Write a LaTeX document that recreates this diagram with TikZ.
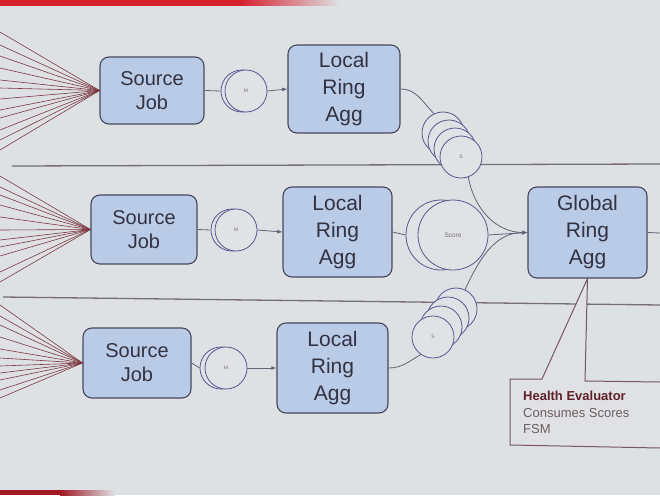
\documentclass[tikz,border=0pt]{standalone}
\usepackage{fontspec}
\setmainfont{Liberation Sans}
\usepackage{xcolor}
\usepackage{tikz}

\definecolor{slidebg}{RGB}{221,225,228}
\definecolor{slidered}{RGB}{214,32,46}
\definecolor{boxfill}{RGB}{186,203,231}
\definecolor{boxline}{RGB}{70,72,92}
\definecolor{boxtext}{RGB}{50,50,66}
\definecolor{ringfill}{RGB}{224,226,230}
\definecolor{ringline}{RGB}{88,88,145}
\definecolor{fanline}{RGB}{125,55,65}
\definecolor{sepline}{RGB}{118,108,124}
\definecolor{notefill}{RGB}{224,225,228}
\definecolor{noteline}{RGB}{118,86,96}
\definecolor{notehead}{RGB}{96,32,42}
\definecolor{notetext}{RGB}{108,94,96}

\tikzset{
job/.style={draw=boxline,fill=boxfill,line width=1.1pt,rounded corners=9pt,align=center,text=boxtext,inner sep=0pt,font=\fontsize{20}{24}\selectfont},
agg/.style={job,font=\fontsize{21}{27}\selectfont},
ring/.style={circle,draw=ringline,fill=ringfill,line width=0.8pt,inner sep=0pt,minimum size=42pt,text=black!55,font=\fontsize{5}{6}\selectfont},
flow/.style={draw=boxline!85,line width=0.8pt},
fan/.style={draw=fanline,line width=0.6pt},
sep/.style={draw=sepline,line width=1.3pt},
note/.style={fill=notefill,draw=noteline,line width=1pt}
}

\begin{document}
\begin{tikzpicture}[x={1pt},y={-1pt},>=latex]
\useasboundingbox (0,0) rectangle (660,495);
\fill[slidebg] (0,0) rectangle (660,495);
\fill[slidered] (0,0) rectangle (240,6);
\shade[left color=slidered,right color=slidebg] (240,0) rectangle (340,6);
\fill[slidered!75!black] (0,490) rectangle (60,495);
\shade[left color=slidered!75!black,right color=slidebg] (60,490) rectangle (115,495);

\coordinate (sepAl) at (12,166);
\coordinate (sepAr) at (660,164);
\coordinate (sepBl) at (3,297);
\coordinate (sepBr) at (660,305);
\draw[sep] (sepAl) -- (sepAr);
\draw[sep] (sepBl) -- (sepBr);

\node[job,minimum width=104pt,minimum height=67pt] (src1) at (152,90.5) {Source\\Job};
\node[job,minimum width=106pt,minimum height=69pt] (src2) at (144,229.5) {Source\\Job};
\node[job,minimum width=108pt,minimum height=70pt] (src3) at (137,363) {Source\\Job};
\node[agg,minimum width=112pt,minimum height=88pt] (agg1) at (344,89) {Local\\Ring\\Agg};
\node[agg,minimum width=109pt,minimum height=90pt] (agg2) at (337.5,232) {Local\\Ring\\Agg};
\node[agg,minimum width=111pt,minimum height=90pt] (agg3) at (332.5,368) {Local\\Ring\\Agg};
\node[agg,minimum width=119pt,minimum height=91pt] (glob) at (587.5,232.5) {Global\\Ring\\Agg};

\foreach \y [count=\i] in {32,45,56,68,80,88,99,110,118,130,140,150} {
\coordinate (fanA\i) at (0,\y);
\draw[fan] (src1.west) -- (fanA\i);
}
\foreach \y [count=\i] in {176,187,195,205,217,230,240,247,256,272,282} {
\coordinate (fanB\i) at (0,\y);
\draw[fan] (src2.west) -- (fanB\i);
}
\foreach \y [count=\i] in {305,316,325,337,349,358,366,373,380,390,398} {
\coordinate (fanC\i) at (0,\y);
\draw[fan] (src3.west) -- (fanC\i);
}

\node[ring] (m1b) at (242,91) {};
\node[ring] (m1) at (246,91) {M};
\node[ring] (m2b) at (232,230) {};
\node[ring] (m2) at (236,230) {M};
\node[ring] (m3b) at (221,368) {};
\node[ring] (m3) at (226,368) {M};

\foreach \cx/\cy [count=\i] in {443/133,449/141,455/149} {
\node[ring] (s1\i) at (\cx,\cy) {};
}
\node[ring] (s1) at (461,157) {S};
\foreach \cx/\cy [count=\i] in {456/309,448/318,441/327} {
\node[ring] (s3\i) at (\cx,\cy) {};
}
\node[ring] (s3) at (433,337) {S};

\node[ring,minimum size=70pt] (scb) at (441,235) {};
\node[ring,minimum size=70pt,font=\fontsize{6.5}{8}\selectfont] (sc) at (453,235) {Score};

\draw[flow] (src1.east) -- (m1b.west);
\draw[flow] (src2.east) -- (m2b.west);
\draw[flow] (src3.east) -- (m3b.west);
\draw[flow,->] (m1.east) -- (agg1.west);
\draw[flow,->] (m2.east) -- (agg2.west);
\draw[flow,->] (m3.east) -- (agg3.west);

\draw[flow] (agg1.east) to[out=0,in=135] (s11.115);
\draw[flow,->] (s1.290) to[out=-80,in=180] (glob.west);
\draw[flow] (agg2.east) -- (scb.west);
\draw[flow,->] (sc.east) -- (glob.west);
\draw[flow] (agg3.east) to[out=0,in=-150] (s3.235);
\draw[flow,->] (s31.65) to[out=65,in=180] (glob.west);

\coordinate (rimR) at (660,233);
\draw[flow] (glob.east) -- (rimR);

\coordinate (nt1) at (660,382);
\coordinate (nt2) at (585,381);
\coordinate (nt3) at (542,379);
\coordinate (nt4) at (510,379);
\coordinate (nt5) at (510,445);
\coordinate (nt6) at (660,448);
\path[note] (nt1) -- (nt2) -- (glob.south) -- (nt3) -- (nt4) -- (nt5) -- (nt6);
\node[anchor=north west,align=left,inner sep=0pt,text=notetext,font=\fontsize{13}{16.5}\selectfont] (health) at (523,391) {\textbf{\color{notehead}Health Evaluator}\\Consumes Scores\\FSM};
\end{tikzpicture}
\end{document}
